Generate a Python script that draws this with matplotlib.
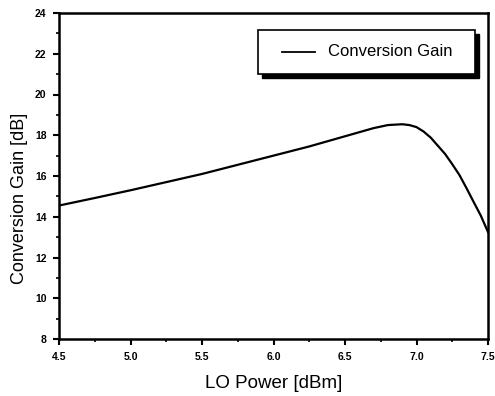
import matplotlib
matplotlib.use("Agg")
import matplotlib.pyplot as plt
from matplotlib.ticker import MultipleLocator
from matplotlib.patches import Rectangle

lo_power = [4.5, 4.75, 5.0, 5.25, 5.5, 5.75, 6.0, 6.25, 6.5, 6.6, 6.7, 6.8, 6.9, 6.95,
            7.0, 7.05, 7.1, 7.15, 7.2, 7.25, 7.3, 7.35, 7.4, 7.45, 7.5]
gain = [14.55, 14.92, 15.3, 15.7, 16.1, 16.55, 17.0, 17.45, 17.95, 18.15, 18.35, 18.5, 18.54, 18.5,
        18.4, 18.18, 17.88, 17.48, 17.08, 16.58, 16.05, 15.4, 14.72, 14.05, 13.25]
xticks = [4.5, 5.0, 5.5, 6.0, 6.5, 7.0, 7.5]
yticks = [8, 10, 12, 14, 16, 18, 20, 22, 24]

plt.rcParams['font.family'] = ['Liberation Sans', 'DejaVu Sans']

fig = plt.figure(figsize=(4.95, 3.96), dpi=100)
ax = fig.add_axes([59/495, 1-339/396, (488-59)/495, (339-13)/396])

ax.plot(lo_power, gain, color='black', lw=1.6)
ax.set_xlim(4.5, 7.5)
ax.set_ylim(8, 24)
ax.set_xticks(xticks)
ax.set_yticks(yticks)
ax.set_xticklabels([f"{v:.1f}" for v in xticks], fontweight='bold', fontsize=7.5)
ax.set_yticklabels([str(v) for v in yticks], fontweight='bold', fontsize=7.5)
ax.xaxis.set_minor_locator(MultipleLocator(0.25))
ax.yaxis.set_minor_locator(MultipleLocator(1))
ax.tick_params(which='major', direction='out', length=4, width=1.5, pad=5)
ax.tick_params(which='minor', direction='out', length=2.5, width=1.2)
for s in ax.spines.values():
    s.set_linewidth(1.8)

ax.set_xlabel("LO Power [dBm]", fontsize=13.5, labelpad=10)
ax.set_ylabel("Conversion Gain [dB]", fontsize=13, labelpad=6)
ax.yaxis.set_label_coords(-0.072, 0.43)

# legend box with shadow
x0, y0, x1, y1 = 258, 30, 475, 74
def px2fig(x, y):
    return x/495, 1-y/396
sx, sy = px2fig(x0+4, y1+4)
fig.patches.append(Rectangle((sx, sy), (x1-x0)/495, (y1-y0)/396, transform=fig.transFigure,
                             facecolor='black', edgecolor='black', zorder=5))
bx, by = px2fig(x0, y1)
fig.patches.append(Rectangle((bx, by), (x1-x0)/495, (y1-y0)/396, transform=fig.transFigure,
                             facecolor='white', edgecolor='black', lw=1.2, zorder=6))
lx0, ly = px2fig(282, 52)
lx1, _ = px2fig(315, 52)
fig.add_artist(plt.Line2D([lx0, lx1], [ly, ly], transform=fig.transFigure, color='black', lw=1.3, zorder=7))
tx, ty = px2fig(328, 52)
fig.text(tx, ty, "Conversion Gain", fontsize=12, va='center', ha='left', zorder=8)

fig.savefig("out.png", dpi=100)
